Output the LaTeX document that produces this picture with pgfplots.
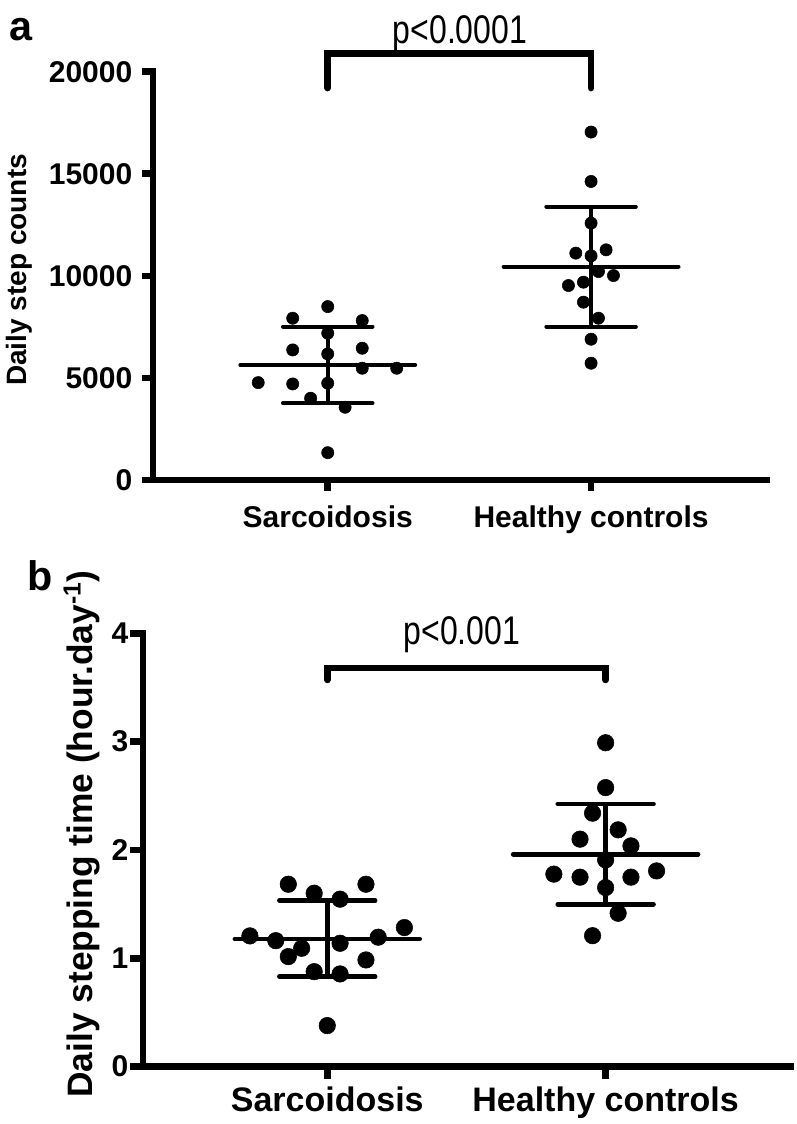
\documentclass[border=0pt]{standalone}
\usepackage{fontspec}
\setmainfont{Liberation Sans}
\usepackage{pgfplots}
\pgfplotsset{compat=1.18}

\pgfplotsset{
  scatterstyle/.style={axis x line*=bottom, axis y line*=left, axis line style={-, line width=5pt, line cap=rect},
    scale only axis, clip=false, tick align=outside, major tick length=8pt,
    every tick/.style={line width=5pt, black},
    xtick={1,2}, xticklabels={Sarcoidosis, Healthy controls},
    /pgf/number format/assume math mode=true, /pgf/number format/1000 sep={}, scaled y ticks=false,
    anchor=south west},
}

\begin{document}
\begin{tikzpicture}
\useasboundingbox (0,0) rectangle (597pt,843pt);

% ---------- panel a ----------
\begin{axis}[scatterstyle,
  at={(114.75pt,483pt)}, width=460.3pt, height=306.2pt,
  xmin=0.3365, xmax=2.667, ymin=0, ymax=20000,
  ytick={0,5000,10000,15000,20000},
  yticklabel style={font=\bfseries\fontsize{22.5}{26}\selectfont, xshift=-4pt},
  xticklabel style={font=\bfseries\fontsize{22.5}{26}\selectfont, yshift=-8pt},
]
\addplot[line width=3pt, line cap=round] coordinates {(0.668,5637) (1.332,5637)};
\addplot[line width=3pt, line cap=round] coordinates {(0.83,7516) (1.17,7516)};
\addplot[line width=3pt, line cap=round] coordinates {(0.83,3760) (1.17,3760)};
\addplot[line width=3pt] coordinates {(1,3760) (1,7516)};
\addplot[line width=3pt, line cap=round] coordinates {(1.668,10458) (2.332,10458)};
\addplot[line width=3pt, line cap=round] coordinates {(1.83,13397) (2.17,13397)};
\addplot[line width=3pt, line cap=round] coordinates {(1.83,7516) (2.17,7516)};
\addplot[line width=3pt] coordinates {(2,7516) (2,13397)};
\addplot[only marks, mark=*, mark size=4.6pt, black] coordinates {
 (0.736,4770) (0.867,7925) (0.867,6372) (0.867,4706) (0.935,4005)
 (1,8495) (1,7190) (1,6176) (1,4740) (1,1338)
 (1.066,3564) (1.131,7810) (1.131,6455) (1.131,5475) (1.262,5475)};
\addplot[only marks, mark=*, mark size=4.6pt, black] coordinates {
 (2,17044) (2,14624) (2,12583) (1.942,11113) (2,10980) (2.057,11275)
 (2.028,10211) (2.085,10015) (1.971,9691) (1.914,9526) (1.971,8711)
 (2.028,7926) (2,6897) (2,5721)};
\addplot[line width=5pt, line cap=round, line join=miter] coordinates {(1,19201) (1,20891) (2,20891) (2,19201)};
\end{axis}

% ---------- panel b ----------
\begin{axis}[scatterstyle,
  at={(107.25pt,43pt)}, width=485.8pt, height=325pt,
  xmin=0.338, xmax=2.665, ymin=0, ymax=4,
  ytick={0,1,2,3,4},
  major tick length=9.5pt,
  yticklabel style={font=\bfseries\fontsize{22.5}{26}\selectfont, xshift=2pt},
  xticklabel style={font=\bfseries\fontsize{25.5}{29}\selectfont, yshift=-2pt},
]
\addplot[line width=3.5pt, line cap=round] coordinates {(0.668,1.179) (1.332,1.179)};
\addplot[line width=3.5pt, line cap=round] coordinates {(0.828,1.533) (1.172,1.533)};
\addplot[line width=3.5pt, line cap=round] coordinates {(0.828,0.831) (1.172,0.831)};
\addplot[line width=3.5pt] coordinates {(1,0.831) (1,1.533)};
\addplot[line width=3.5pt, line cap=round] coordinates {(1.668,1.961) (2.332,1.961)};
\addplot[line width=3.5pt, line cap=round] coordinates {(1.828,2.425) (2.172,2.425)};
\addplot[line width=3.5pt, line cap=round] coordinates {(1.828,1.499) (2.172,1.499)};
\addplot[line width=3.5pt] coordinates {(2,1.499) (2,2.425)};
\addplot[only marks, mark=*, mark size=6.2pt, black] coordinates {
 (0.86,1.684) (0.953,1.601) (1.046,1.546) (1.139,1.684) (0.722,1.207)
 (0.815,1.163) (0.908,1.093) (0.86,1.016) (1.046,1.139) (1.183,1.195)
 (1.277,1.284) (1.139,0.985) (0.953,0.877) (1.046,0.856) (1,0.379)};
\addplot[only marks, mark=*, mark size=6.2pt, black] coordinates {
 (2,2.99) (2,2.576) (1.953,2.34) (2.045,2.186) (1.908,2.10) (2.091,2.038)
 (2,1.909) (1.814,1.777) (1.908,1.749) (2.091,1.749) (2.183,1.807)
 (2,1.653) (2.045,1.416) (1.953,1.209)};
\addplot[line width=5pt, line cap=round, line join=miter] coordinates {(1,3.57) (1,3.68) (2,3.68) (2,3.57)};
\end{axis}

% labels
\node[font=\bfseries\fontsize{31}{34}\selectfont] at (15.75pt,821pt) {a};
\node[font=\bfseries\fontsize{31}{34}\selectfont] at (30pt,411pt) {b};
\node[font=\bfseries\fontsize{21}{24}\selectfont, rotate=90] at (14.25pt,640.5pt) {Daily step counts};
\node[font=\bfseries\fontsize{26.5}{30}\selectfont, rotate=90] at (61.5pt,217.5pt) {Daily stepping time (hour.day\textsuperscript{-1})};
\node[font=\fontsize{24}{28}\selectfont] at (345pt,818pt) {\scalebox{1}[1.25]{p<0.0001}};
\node[font=\fontsize{24}{28}\selectfont] at (346.5pt,367pt) {\scalebox{1}[1.25]{p<0.001}};
\end{tikzpicture}
\end{document}
